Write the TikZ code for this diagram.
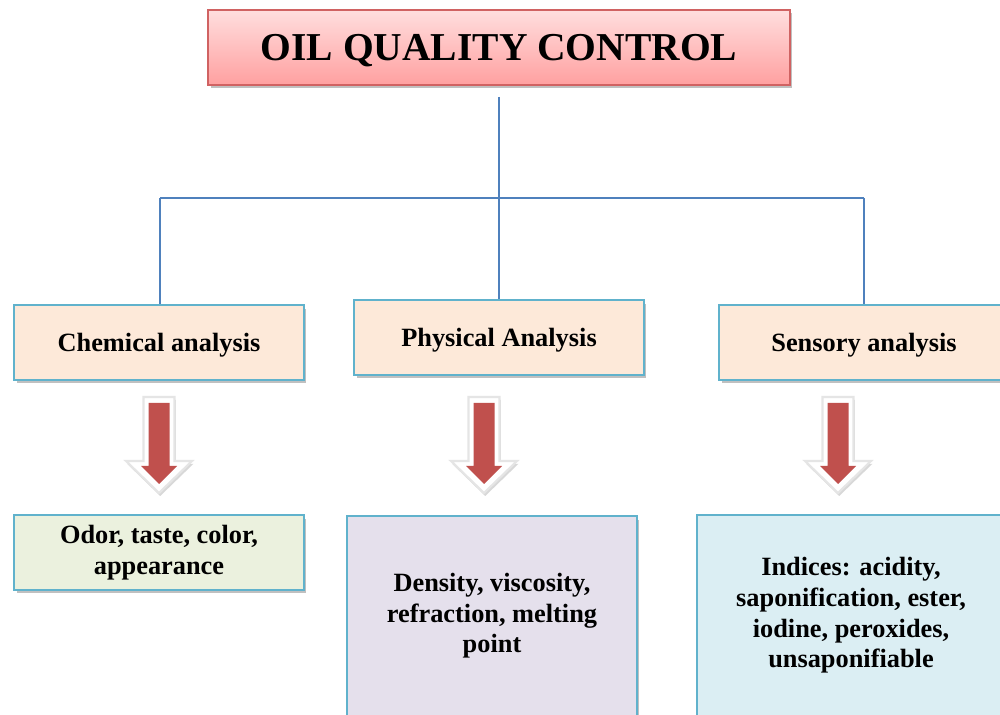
\documentclass[tikz,border=0pt]{standalone}
\usepackage{fontspec}
\setmainfont{Liberation Serif}
\usetikzlibrary{shadows}
\definecolor{titletop}{RGB}{255,222,222}
\definecolor{titlebot}{RGB}{255,160,160}
\definecolor{titleedge}{RGB}{208,98,98}
\definecolor{boxedge}{RGB}{96,178,204}
\definecolor{peach}{RGB}{253,233,217}
\definecolor{palegreen}{RGB}{235,241,222}
\definecolor{lavender}{RGB}{229,224,236}
\definecolor{paleblue}{RGB}{219,238,243}
\definecolor{connblue}{RGB}{79,129,189}
\definecolor{arrowred}{RGB}{192,80,77}
\tikzset{
  shad/.style={drop shadow={shadow xshift=0.5mm,shadow yshift=-0.7mm,opacity=0.35,fill=black!70}},
  titlebox/.style={draw=titleedge,line width=0.9pt,top color=titletop,bottom color=titlebot,
    minimum width=11.64cm,minimum height=1.5cm,inner sep=0pt,shad,text depth=0pt,
    font=\fontsize{22.5}{26}\selectfont\bfseries},
  catbox/.style={draw=boxedge,line width=0.9pt,fill=peach,minimum width=5.8cm,minimum height=1.5cm,
    inner sep=0pt,shad,text depth=0pt,font=\fontsize{15}{17.5}\selectfont\bfseries},
  detbox/.style={draw=boxedge,line width=0.9pt,minimum width=5.8cm,inner sep=0pt,shad,
    font=\fontsize{15}{17.4}\selectfont\bfseries,align=center},
  conn/.style={draw=connblue,line width=1pt},
  outerarrow/.style={fill=white,draw=black!10,line width=1.2pt,line join=miter,
    drop shadow={shadow xshift=0.25mm,shadow yshift=-0.6mm,opacity=0.25,fill=black!60}},
  innerarrow/.style={fill=arrowred}
}
\begin{document}
\begin{tikzpicture}[x=0.02cm,y=-0.02cm]
\useasboundingbox (0,0) rectangle (1000,715);
\clip (0,0) rectangle (1000,715);
\fill[white] (0,0) rectangle (1000,715);

\node[titlebox] (title) at (499,47.5) {OIL QUALITY CONTROL};

\node[catbox] (chem) at (159,342.5) {Chemical analysis};
\node[catbox] (phys) at (499,337.5) {Physical Analysis};
\node[catbox] (sens) at (864,342.5) {Sensory analysis};

\node[detbox,fill=palegreen,minimum height=1.5cm] (odor) at (159,552.5) {Odor, taste, color,\\appearance};
\node[detbox,fill=lavender,minimum height=4cm] (dens) at (492,616) {Density, viscosity,\\refraction, melting\\point};
\node[detbox,fill=paleblue,minimum width=6.16cm,minimum height=4.02cm] (ind) at (851,615.5) {Indices: acidity,\\saponification, ester,\\iodine, peroxides,\\unsaponifiable};

\coordinate (top) at (499,97);
\coordinate (hl) at (160,198);
\coordinate (hr) at (864,198);
\draw[conn] (top) -- (phys.north);
\draw[conn] (hl) -- (hr);
\draw[conn] (hl) -- (hl |- chem.north);
\draw[conn] (hr) -- (hr |- sens.north);

\foreach \c in {159,484,838}{
  \path[outerarrow] (\c-15.5,397) -- (\c+15.5,397) -- (\c+15.5,461) -- (\c+33,461) -- (\c,493)
     -- (\c-33,461) -- (\c-15.5,461) -- cycle;
  \path[innerarrow] (\c-10.5,403) -- (\c+10.5,403) -- (\c+10.5,466) -- (\c+18,466) -- (\c,484)
     -- (\c-18,466) -- (\c-10.5,466) -- cycle;
}
\end{tikzpicture}
\end{document}
